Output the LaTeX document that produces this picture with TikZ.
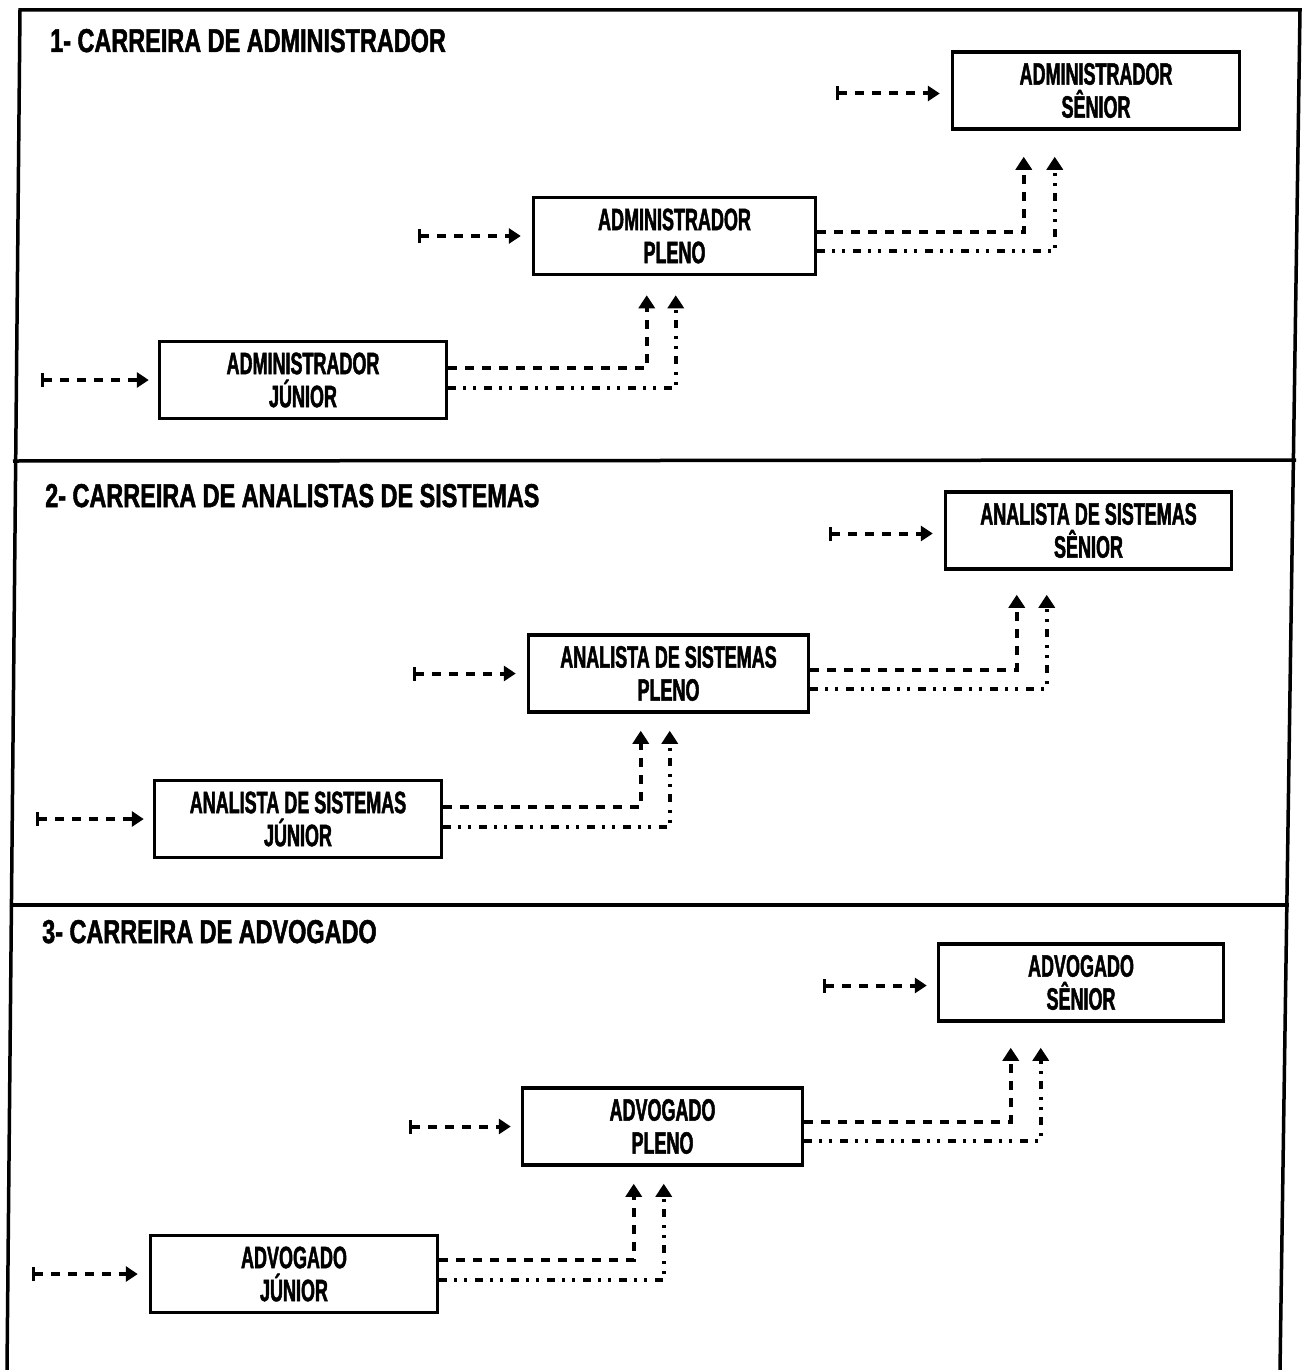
\documentclass[tikz,border=0pt]{standalone}
\usepackage{fontspec}
\usetikzlibrary{arrows.meta,calc}
\newfontfamily\boxfont{Liberation Sans}[FakeStretch=0.58,FakeBold=1.5]
\newfontfamily\titlefont{Liberation Sans}[FakeStretch=0.71,FakeBold=1.5]
\tikzset{
  careerbox/.style={draw, line width=3.5pt, minimum width=287pt, minimum height=77pt,
    inner sep=0pt, align=center, font=\boxfont\bfseries\fontsize{31}{33}\selectfont},
  sectitle/.style={anchor=base west, inner sep=0pt,
    font=\titlefont\bfseries\fontsize{33}{36}\selectfont},
  entry/.style={line width=4pt, dash pattern=on 9pt off 8pt,
    {Bar[width=14pt,line width=3pt]}-{Triangle[length=12pt,width=15pt]}},
  dashconn/.style={line width=4pt, dash pattern=on 9pt off 8pt,
    -{Triangle[length=13pt,width=16pt]}},
  dotconn/.style={line width=4pt,
    dash pattern=on 8pt off 7pt on 3pt off 7pt on 3pt off 8pt,
    -{Triangle[length=13pt,width=16pt]}},
  frameline/.style={line width=3.5pt}
}
\begin{document}
\begin{tikzpicture}[x=1pt,y=-1pt]
\useasboundingbox (0,0) rectangle (1303,1370);
% frame
\draw[frameline] (7,1370) -- (20,10) -- (1300,10) -- (1280,1370);
\draw[frameline] (13,461) -- (1296,460);
\draw[frameline] (10,905) -- (1289,905);

% ---------- Section 1 ----------
\node[sectitle] (t1) at (50,52) {1- CARREIRA DE ADMINISTRADOR};
\node[careerbox] (j1) at (303,380) {ADMINISTRADOR\\JÚNIOR};
\node[careerbox, minimum width=282pt] (p1) at (674.5,236) {ADMINISTRADOR\\PLENO};
\node[careerbox, minimum width=287pt] (s1) at (1096,90.5) {ADMINISTRADOR\\SÊNIOR};
\coordinate (e1j) at ([xshift=-117pt]j1.west);
\coordinate (e1p) at ([xshift=-114pt]p1.west);
\coordinate (e1s) at ([xshift=-115pt,yshift=-3pt]s1.west);
\draw[entry] (e1j) -- ([xshift=-9pt]j1.west);
\draw[entry] (e1p) -- ([xshift=-11pt]p1.west);
\draw[entry] (e1s) -- ([xshift=-11pt,yshift=-3pt]s1.west);
\draw[dashconn] ([yshift=12pt]j1.east) -| ([xshift=115pt,yshift=-19pt]p1.south west);
\draw[dotconn] ([yshift=-8pt]j1.east) -| ([xshift=144pt,yshift=-19pt]p1.south west);
\draw[dashconn] ([yshift=4pt]p1.east) -| ([xshift=73pt,yshift=-26pt]s1.south west);
\draw[dotconn] ([yshift=-15pt]p1.east) -| ([xshift=104pt,yshift=-26pt]s1.south west);

% ---------- Section 2 ----------
\node[sectitle] (t2) at (45,507) {2- CARREIRA DE ANALISTAS DE SISTEMAS};
\node[careerbox] (j2) at (298,819) {ANALISTA DE SISTEMAS\\JÚNIOR};
\node[careerbox, minimum width=280pt] (p2) at (668.5,673.5) {ANALISTA DE SISTEMAS\\PLENO};
\node[careerbox, minimum width=286pt] (s2) at (1088.5,530.5) {ANALISTA DE SISTEMAS\\SÊNIOR};
\coordinate (e2j) at ([xshift=-117pt]j2.west);
\coordinate (e2p) at ([xshift=-114pt]p2.west);
\coordinate (e2s) at ([xshift=-115pt,yshift=-3pt]s2.west);
\draw[entry] (e2j) -- ([xshift=-9pt]j2.west);
\draw[entry] (e2p) -- ([xshift=-11pt]p2.west);
\draw[entry] (e2s) -- ([xshift=-11pt,yshift=-3pt]s2.west);
\draw[dashconn] ([yshift=12pt]j2.east) -| ([xshift=114pt,yshift=-17pt]p2.south west);
\draw[dotconn] ([yshift=-8pt]j2.east) -| ([xshift=143pt,yshift=-17pt]p2.south west);
\draw[dashconn] ([yshift=4pt]p2.east) -| ([xshift=73pt,yshift=-24pt]s2.south west);
\draw[dotconn] ([yshift=-15pt]p2.east) -| ([xshift=103pt,yshift=-24pt]s2.south west);

% ---------- Section 3 ----------
\node[sectitle] (t3) at (42,943) {3- CARREIRA DE ADVOGADO};
\node[careerbox] (j3) at (294,1274) {ADVOGADO\\JÚNIOR};
\node[careerbox, minimum width=280pt] (p3) at (662.5,1126.5) {ADVOGADO\\PLENO};
\node[careerbox, minimum width=285pt] (s3) at (1081,982.5) {ADVOGADO\\SÊNIOR};
\coordinate (e3j) at ([xshift=-117pt]j3.west);
\coordinate (e3p) at ([xshift=-112pt]p3.west);
\coordinate (e3s) at ([xshift=-114pt,yshift=-3pt]s3.west);
\draw[entry] (e3j) -- ([xshift=-11pt]j3.west);
\draw[entry] (e3p) -- ([xshift=-10pt]p3.west);
\draw[entry] (e3s) -- ([xshift=-10pt,yshift=-3pt]s3.west);
\draw[dashconn] ([yshift=14pt]j3.east) -| ([xshift=113pt,yshift=-17pt]p3.south west);
\draw[dotconn] ([yshift=-6pt]j3.east) -| ([xshift=143pt,yshift=-17pt]p3.south west);
\draw[dashconn] ([yshift=5pt]p3.east) -| ([xshift=74pt,yshift=-25pt]s3.south west);
\draw[dotconn] ([yshift=-14pt]p3.east) -| ([xshift=104pt,yshift=-25pt]s3.south west);
\end{tikzpicture}
\end{document}
